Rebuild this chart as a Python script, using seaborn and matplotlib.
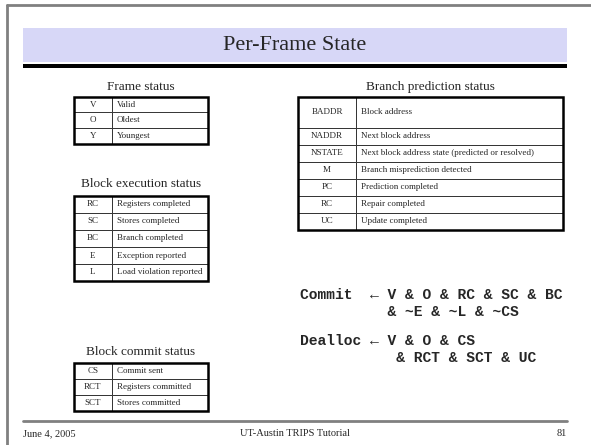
import matplotlib
matplotlib.use('Agg')
import matplotlib.pyplot as plt
from matplotlib.patches import Rectangle
import seaborn as sns

sns.set_theme(style='white')
plt.rcParams['font.family'] = ['Liberation Serif', 'DejaVu Serif']

# slide content
title = 'Per-Frame State'

frame_codes = ['V', 'O', 'Y']
frame_desc = ['Valid', 'Oldest', 'Youngest']

exec_codes = ['RC', 'SC', 'BC', 'E', 'L']
exec_desc = ['Registers completed', 'Stores completed', 'Branch completed',
             'Exception reported', 'Load violation reported']

commit_codes = ['CS', 'RCT', 'SCT']
commit_desc = ['Commit sent', 'Registers committed', 'Stores committed']

branch_codes = ['BADDR', 'NADDR', 'NSTATE', 'M', 'PC', 'RC', 'UC']
branch_desc = ['Block address', 'Next block address',
               'Next block address state (predicted or resolved)',
               'Branch misprediction detected', 'Prediction completed',
               'Repair completed', 'Update completed']

code_lines = ['Commit  \u2190 V & O & RC & SC & BC',
              '          & ~E & ~L & ~CS',
              'Dealloc \u2190 V & O & CS',
              '           & RCT & SCT & UC']

footer = ['June 4, 2005', 'UT-Austin TRIPS Tutorial', '81']

W, H = 591, 445
fig = plt.figure(figsize=(W / 100, H / 100), dpi=100)
ax = fig.add_axes([0, 0, 1, 1])
ax.set_xlim(0, W)
ax.set_ylim(H, 0)
ax.axis('off')

# slide frame
ax.plot([7, W], [5, 5], color='#808080', lw=2)
ax.plot([7, 7], [5, H], color='#808080', lw=2)

# title band
ax.add_patch(Rectangle((23, 28), 544, 34, facecolor='#D7D7F7', edgecolor='none'))
ax.add_patch(Rectangle((23, 64), 544, 3.5, facecolor='black', edgecolor='none'))
ax.text(295, 46, title, ha='center', va='center', fontsize=16)


def draw_table(codes, desc, x0, y0, width, col1, row_h, heights=None):
    if heights is None:
        heights = [1] * len(codes)
    total = sum(heights) * row_h
    bbox = [x0 / W, 1 - (y0 + total) / H, width / W, total / H]
    cells = [[c, d] for c, d in zip(codes, desc)]
    tb = ax.table(cellText=cells, colWidths=[col1 / width, 1 - col1 / width],
                  cellLoc='center', bbox=bbox)
    tb.auto_set_font_size(False)
    tb.set_fontsize(6.5)
    for (r, c), cell in tb.get_celld().items():
        cell.set_height(heights[r] / sum(heights))
        cell.set_linewidth(0.7)
        cell.set_edgecolor('#333333')
        cell.get_text().set_fontfamily(['Liberation Serif'])
        if c == 1:
            cell._loc = 'left'
            cell.PAD = 5 / (width - col1)
            cell.get_text().set_ha('left')
    ax.add_patch(Rectangle((x0, y0), width, total, fill=False,
                           edgecolor='black', lw=1.8, zorder=5))
    return total


# left column
draw_table(frame_codes, frame_desc, 74, 97, 134, 38, 15.5)
ax.text(141, 87, 'Frame status', ha='center', va='center', fontsize=9.5)

draw_table(exec_codes, exec_desc, 74, 196, 134, 38, 17)
ax.text(141, 184, 'Block execution status', ha='center', va='center', fontsize=9.5)

draw_table(commit_codes, commit_desc, 74, 363, 134, 38, 16)
ax.text(141, 352, 'Block commit status', ha='center', va='center', fontsize=9.5)

# right column
draw_table(branch_codes, branch_desc, 298, 97, 265, 58, 17,
           heights=[1.8, 1, 1, 1, 1, 1, 1])
ax.text(430, 87, 'Branch prediction status', ha='center', va='center', fontsize=9.5)

code_y = [295, 312, 341, 358]
for line, y in zip(code_lines, code_y):
    ax.text(300, y, line, ha='left', va='center', fontsize=10.5,
            fontweight='bold', family=['Liberation Mono', 'DejaVu Sans Mono'])

# footer
ax.plot([23, 567], [421, 421], color='#808080', lw=2)
ax.text(23, 434, footer[0], ha='left', va='center', fontsize=7.5)
ax.text(295, 434, footer[1], ha='center', va='center', fontsize=7.5)
ax.text(567, 434, footer[2], ha='right', va='center', fontsize=7.5)

fig.savefig('out.png', dpi=100)
